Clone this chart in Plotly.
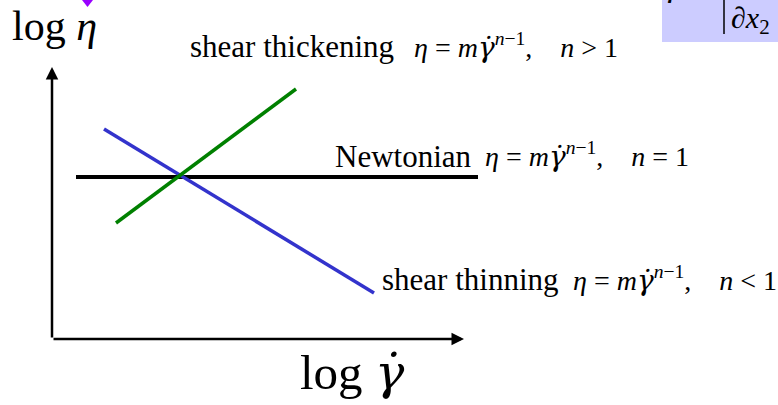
import plotly.graph_objects as go

# log(shear rate) / log(viscosity) sketch, arbitrary units
newtonian_x = [0.6, 10.65]
newtonian_y = [4.05, 4.05]
thinning_x = [1.3, 8.05]
thinning_y = [5.25, 1.15]
thickening_x = [1.6, 6.1]
thickening_y = [2.9, 6.25]

axis_x_end = 10.3
axis_y_end = 6.8

W, H = 778, 405
PX = 40.0          # pixels per unit
X0, Y0 = 52, 339   # pixel position of the origin

SERIF = "Liberation Serif, Times New Roman, serif"
GDOT = "<span style='font-family:DejaVu Serif;font-style:italic'>γ̇</span>"

fig = go.Figure()

fig.add_trace(go.Scatter(x=newtonian_x, y=newtonian_y, mode="lines",
                         line=dict(color="#000000", width=4), hoverinfo="skip"))
fig.add_trace(go.Scatter(x=thinning_x, y=thinning_y, mode="lines",
                         line=dict(color="#3333cc", width=3.5), hoverinfo="skip"))
fig.add_trace(go.Scatter(x=thickening_x, y=thickening_y, mode="lines",
                         line=dict(color="#008000", width=3.5), hoverinfo="skip"))


def px(xp, yp):
    """pixel position -> paper coordinates"""
    return xp / W, 1 - yp / H


annotations = []

# axes with arrow heads
annotations.append(dict(x=axis_x_end, y=0, ax=0, ay=0, xref="x", yref="y",
                        axref="x", ayref="y", showarrow=True, arrowhead=2,
                        arrowsize=1, arrowwidth=2.5, arrowcolor="#000000", text=""))
annotations.append(dict(x=0, y=axis_y_end, ax=0, ay=0, xref="x", yref="y",
                        axref="x", ayref="y", showarrow=True, arrowhead=2,
                        arrowsize=1, arrowwidth=2.5, arrowcolor="#000000", text=""))


def label(text, xp, yp, size, anchor="left"):
    x, y = px(xp, yp)
    annotations.append(dict(x=x, y=y, xref="paper", yref="paper", text=text,
                            showarrow=False, xanchor=anchor, yanchor="middle",
                            font=dict(family=SERIF, size=size, color="#000000")))


eq = ("<i>η</i> = <i>m</i>" + GDOT + "<sup><i>n</i>−1</sup>,"
      "\u2002\u2002<i>n</i> {} 1")

label("log <i>η</i>", 10, 26, 42)
label("shear thickening", 188, 47, 31)
label(eq.format("&gt;"), 412, 46, 28)
label("Newtonian", 333, 156, 31)
label(eq.format("="), 483, 155, 28)
label("shear thinning", 380, 279, 31)
label(eq.format("&lt;"), 571, 279, 28)
label("log " + GDOT, 298, 372, 49)

# partially visible formula box in the top-right corner
shapes = [dict(type="rect", xref="paper", yref="paper",
               x0=662 / W, x1=1, y0=1 - 42 / H, y1=1,
               fillcolor="#ccccff", line=dict(width=0), layer="below"),
          dict(type="line", xref="paper", yref="paper",
               x0=724 / W, x1=724 / W, y0=1 - 34 / H, y1=1,
               line=dict(color="#000000", width=1.5)),
          dict(type="path", xref="paper", yref="paper",
               path="M {a},{b} L {c},{b} L {d},{e} Z".format(
                   a=82 / W, c=93 / W, b=1.0, d=87.5 / W, e=1 - 7 / H),
               fillcolor="#9900ff", line=dict(width=0))]
label("∂<i>x</i><sub>2</sub>", 729, 20, 30)
label("<i>γ</i>", 664, -14, 30)

fig.update_layout(
    width=W, height=H,
    margin=dict(l=0, r=0, t=0, b=0),
    paper_bgcolor="#ffffff", plot_bgcolor="#ffffff",
    showlegend=False,
    xaxis=dict(range=[-X0 / PX, (W - X0) / PX], visible=False, fixedrange=True),
    yaxis=dict(range=[-(H - Y0) / PX, Y0 / PX], visible=False, fixedrange=True),
    annotations=annotations,
    shapes=shapes,
)

fig.write_html("out.html")
